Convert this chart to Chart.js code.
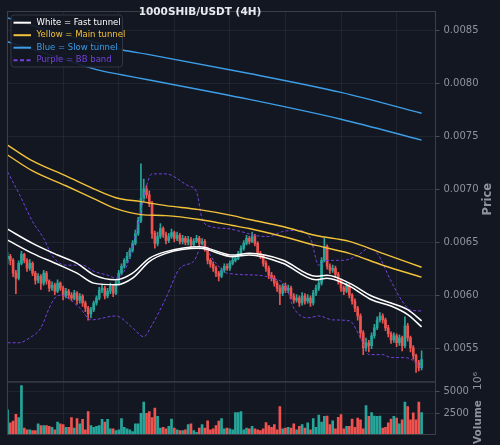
<!DOCTYPE html>
<html lang="en">
<head>
<meta charset="UTF-8">
<title>1000SHIB/USDT (4H)</title>
<script src="https://cdn.jsdelivr.net/npm/chart.js@4.4.1/dist/chart.umd.min.js"></script>
<style>
  body { margin: 0; background: #131722; }
  canvas { display: block; }
</style>
</head>
<body>
<canvas id="chart" width="500" height="445"></canvas>
<script>
// candles (4H)
const opens = [0.006350,0.006372,0.006334,0.006213,0.006166,0.006306,0.006391,0.006334,0.006259,0.006306,
  0.006213,0.006147,0.006184,0.006119,0.006213,0.006138,0.006072,0.006100,0.006044,0.006119,
  0.006072,0.005997,0.006044,0.006006,0.005978,0.006025,0.005959,0.005997,0.005931,0.005884,
  0.005828,0.005866,0.005931,0.005978,0.006053,0.006072,0.005997,0.006044,0.006091,0.006025,
  0.006119,0.006213,0.006278,0.006334,0.006372,0.006428,0.006494,0.006588,0.006709,0.006916,
  0.007009,0.006953,0.006869,0.006588,0.006494,0.006559,0.006634,0.006578,0.006522,0.006559,
  0.006597,0.006541,0.006569,0.006513,0.006541,0.006503,0.006531,0.006484,0.006513,0.006541,
  0.006494,0.006513,0.006447,0.006334,0.006297,0.006259,0.006213,0.006184,0.006241,0.006278,
  0.006259,0.006306,0.006334,0.006353,0.006400,0.006447,0.006494,0.006541,0.006513,0.006559,
  0.006494,0.006400,0.006372,0.006306,0.006259,0.006194,0.006166,0.006119,0.006072,0.006025,
  0.006091,0.006053,0.006072,0.005997,0.005959,0.005978,0.005931,0.005997,0.005950,0.005978,
  0.005931,0.006025,0.006072,0.006119,0.006334,0.006466,0.006278,0.006241,0.006259,0.006203,
  0.006147,0.006072,0.006044,0.006091,0.006006,0.005950,0.005884,0.005809,0.005650,0.005509,
  0.005556,0.005528,0.005622,0.005697,0.005772,0.005809,0.005772,0.005697,0.005641,0.005584,
  0.005622,0.005556,0.005603,0.005528,0.005716,0.005603,0.005509,0.005434,0.005369,0.005322];
const highs = [0.006410,0.006390,0.006350,0.006240,0.006330,0.006420,0.006400,0.006350,0.006340,0.006320,
  0.006230,0.006210,0.006200,0.006240,0.006230,0.006150,0.006130,0.006120,0.006150,0.006130,
  0.006090,0.006070,0.006060,0.006030,0.006050,0.006040,0.006020,0.006010,0.005950,0.005900,
  0.005890,0.005950,0.006000,0.006080,0.006110,0.006090,0.006070,0.006120,0.006100,0.006140,
  0.006240,0.006300,0.006350,0.006410,0.006450,0.006520,0.006620,0.006740,0.007244,0.007100,
  0.007040,0.006990,0.006890,0.006610,0.006600,0.006680,0.006650,0.006600,0.006590,0.006630,
  0.006610,0.006600,0.006590,0.006570,0.006560,0.006560,0.006550,0.006540,0.006570,0.006560,
  0.006540,0.006530,0.006460,0.006350,0.006320,0.006280,0.006230,0.006260,0.006300,0.006300,
  0.006330,0.006360,0.006380,0.006420,0.006470,0.006520,0.006570,0.006560,0.006600,0.006580,
  0.006510,0.006420,0.006390,0.006330,0.006280,0.006220,0.006190,0.006140,0.006100,0.006110,
  0.006120,0.006100,0.006090,0.006020,0.006010,0.006000,0.006030,0.006020,0.006010,0.006000,
  0.006050,0.006100,0.006140,0.006360,0.006541,0.006480,0.006300,0.006290,0.006280,0.006220,
  0.006160,0.006090,0.006120,0.006110,0.006020,0.005970,0.005900,0.005830,0.005670,0.005600,
  0.005580,0.005650,0.005730,0.005800,0.005840,0.005830,0.005790,0.005720,0.005660,0.005650,
  0.005640,0.005630,0.005620,0.005800,0.005740,0.005620,0.005530,0.005450,0.005390,0.005481];
const lows = [0.006300,0.006290,0.006180,0.006020,0.006150,0.006290,0.006310,0.006230,0.006240,0.006190,
  0.006110,0.006120,0.006060,0.006100,0.006110,0.006040,0.006050,0.006010,0.006030,0.006050,
  0.005960,0.005980,0.005970,0.005950,0.005960,0.005920,0.005930,0.005900,0.005850,0.005770,
  0.005790,0.005850,0.005910,0.005960,0.006030,0.005970,0.005980,0.006020,0.005990,0.006010,
  0.006100,0.006200,0.006260,0.006310,0.006350,0.006410,0.006480,0.006570,0.006690,0.006890,
  0.006920,0.006840,0.006540,0.006450,0.006470,0.006540,0.006550,0.006490,0.006500,0.006540,
  0.006510,0.006520,0.006490,0.006490,0.006480,0.006480,0.006460,0.006470,0.006500,0.006470,
  0.006480,0.006420,0.006300,0.006270,0.006230,0.006180,0.006140,0.006170,0.006220,0.006240,
  0.006240,0.006290,0.006320,0.006340,0.006380,0.006430,0.006480,0.006490,0.006500,0.006470,
  0.006380,0.006350,0.006280,0.006230,0.006160,0.006140,0.006090,0.006040,0.005915,0.006000,
  0.006030,0.006030,0.005970,0.005930,0.005940,0.005900,0.005910,0.005920,0.005930,0.005900,
  0.005910,0.006000,0.006050,0.006100,0.006320,0.006250,0.006210,0.006220,0.006170,0.006110,
  0.006040,0.006010,0.006030,0.005980,0.005920,0.005850,0.005770,0.005600,0.005444,0.005480,
  0.005470,0.005500,0.005600,0.005680,0.005750,0.005740,0.005670,0.005610,0.005550,0.005560,
  0.005520,0.005530,0.005480,0.005510,0.005570,0.005470,0.005400,0.005275,0.005290,0.005300];
const closes = [0.006372,0.006334,0.006213,0.006166,0.006306,0.006391,0.006334,0.006259,0.006306,0.006213,
  0.006147,0.006184,0.006119,0.006213,0.006138,0.006072,0.006100,0.006044,0.006119,0.006072,
  0.005997,0.006044,0.006006,0.005978,0.006025,0.005959,0.005997,0.005931,0.005884,0.005828,
  0.005866,0.005931,0.005978,0.006053,0.006072,0.005997,0.006044,0.006091,0.006025,0.006119,
  0.006213,0.006278,0.006334,0.006372,0.006428,0.006494,0.006588,0.006709,0.006916,0.007009,
  0.006953,0.006869,0.006588,0.006494,0.006559,0.006634,0.006578,0.006522,0.006559,0.006597,
  0.006541,0.006569,0.006513,0.006541,0.006503,0.006531,0.006484,0.006513,0.006541,0.006494,
  0.006513,0.006447,0.006334,0.006297,0.006259,0.006213,0.006184,0.006241,0.006278,0.006259,
  0.006306,0.006334,0.006353,0.006400,0.006447,0.006494,0.006541,0.006513,0.006559,0.006494,
  0.006400,0.006372,0.006306,0.006259,0.006194,0.006166,0.006119,0.006072,0.006025,0.006091,
  0.006053,0.006072,0.005997,0.005959,0.005978,0.005931,0.005997,0.005950,0.005978,0.005931,
  0.006025,0.006072,0.006119,0.006334,0.006466,0.006278,0.006241,0.006259,0.006203,0.006147,
  0.006072,0.006044,0.006091,0.006006,0.005950,0.005884,0.005809,0.005650,0.005509,0.005556,
  0.005528,0.005622,0.005697,0.005772,0.005809,0.005772,0.005697,0.005641,0.005584,0.005622,
  0.005556,0.005603,0.005528,0.005716,0.005603,0.005509,0.005434,0.005369,0.005322,0.005397];
// volume, in units of 10^6
const volumes = [2900,1400,1600,2400,2000,5700,800,600,600,500,
  500,1300,1100,1100,1100,1000,900,600,1500,1300,
  1200,900,900,2000,800,1900,1300,1800,600,2700,
  1100,900,1000,1100,1800,1500,1800,700,700,500,
  600,1900,900,700,600,400,1300,1300,2500,3800,
  2500,2700,2000,3100,2150,800,900,700,1000,1850,
  800,600,500,500,600,1200,1300,500,300,800,
  1200,800,1650,600,700,1100,1600,1900,700,800,
  700,600,2600,2600,2700,600,800,700,1000,700,
  600,500,700,1450,1100,900,1200,600,3300,700,
  800,900,800,1300,600,1000,1200,800,1400,600,
  1900,900,2300,1500,2150,2200,1200,1650,700,2050,
  2350,700,1000,1000,1850,900,1950,1750,700,3400,
  2150,2600,2200,2150,2200,800,900,1400,1850,2150,
  1950,1300,1750,3800,3300,1750,2550,1750,3800,2600];

// tunnels and bands, sampled at candle indices
const fastIdx = [0,9,18,25,31,39,45,51,57,69,81,87,99,111,115,123,131,138,144,149];
const fastUpper = [0.006628,0.006494,0.006384,0.006306,0.006197,0.006150,0.006213,0.006353,0.006416,0.006463,
  0.006384,0.006400,0.006337,0.006184,0.006194,0.006119,0.005997,0.005931,0.005868,0.005763];
const fastLower = [0.006525,0.006400,0.006297,0.006213,0.006119,0.006103,0.006166,0.006322,0.006400,0.006447,
  0.006369,0.006384,0.006306,0.006150,0.006166,0.006091,0.005962,0.005903,0.005822,0.005706];
const mainIdx = [0,9,21,31,39,48,57,69,81,87,99,111,123,135,149];
const mainUpper = [0.007422,0.007272,0.007131,0.007009,0.006925,0.006888,0.006850,0.006813,0.006756,0.006719,
  0.006653,0.006569,0.006513,0.006400,0.006269];
const mainLower = [0.007328,0.007178,0.007038,0.006916,0.006822,0.006766,0.006756,0.006719,0.006663,0.006634,
  0.006559,0.006475,0.006400,0.006288,0.006175];
const slowIdx = [0,19,32,41,50,87,120,149];
const slowUpper = [0.008622,0.008472,0.008388,0.008322,0.008280,0.008097,0.007919,0.007722];
const slowLower = [0.008397,0.008243,0.008134,0.008086,0.008041,0.007853,0.007666,0.007469];
const bbUpIdx = [0,4.5,9,13,16,21,27,31,36,39,43,45,48,50,52,57,65,68,70,73,
  79,84,89,94,99,104,109,112,115,121,126,130,133,138,142,145,149];
const bbUpper = [0.007169,0.006944,0.006700,0.006541,0.006381,0.006288,0.006288,0.006231,0.006194,0.006166,
  0.006288,0.006475,0.006794,0.007038,0.007150,0.007150,0.007038,0.006981,0.006728,0.006653,
  0.006634,0.006606,0.006569,0.006559,0.006606,0.006616,0.006541,0.006288,0.006334,0.006334,
  0.006381,0.006447,0.006400,0.006138,0.005950,0.005866,0.005856];
const bbLowIdx = [0,4,8,12,15,17,19,26,30,39,45,49,52,57,62,67,70,75,79,90,
  95,100,103,108,112,117,123,127,130,135,138,143,147,149];
const bbLower = [0.005556,0.005556,0.005603,0.005697,0.005884,0.005978,0.006006,0.005884,0.005772,0.005809,
  0.005697,0.005613,0.005725,0.005978,0.006259,0.006325,0.006466,0.006306,0.006213,0.006194,
  0.006166,0.006091,0.005884,0.005791,0.005809,0.005772,0.005763,0.005603,0.005444,0.005444,
  0.005416,0.005416,0.005369,0.005313];

const priceTicks = [0.0055, 0.0060, 0.0065, 0.0070, 0.0075, 0.0080, 0.0085];
const volumeTicks = [2500, 5000];
const xGridIdx = [20, 40, 60, 80, 100, 120, 140];
const legendLabels = ['White = Fast tunnel', 'Yellow = Main tunnel', 'Blue = Slow tunnel', 'Purple = BB band'];

const UP = '#26a69a', DOWN = '#ef5350';
const WHITE = '#ffffff', YELLOW = '#f2c23a', BLUE = '#3d9de6', PURPLE = '#7442dd';
const legendColors = [WHITE, YELLOW, BLUE, PURPLE];

const candleColors = closes.map((c, i) => c >= opens[i] ? UP : DOWN);

function pts(idx, vals) {
  return idx.map((x, k) => ({ x: x, y: vals[k] }));
}
function line(idx, vals, color, width, dash) {
  return {
    type: 'line', data: pts(idx, vals), yAxisID: 'y', order: 1,
    borderColor: color, borderWidth: width, borderDash: dash || [],
    pointRadius: 0, cubicInterpolationMode: 'monotone', fill: false
  };
}

Chart.defaults.font.family = '"DejaVu Sans", sans-serif';
Chart.defaults.color = '#8f939c';

const overlay = {
  id: 'overlay',
  afterDraw(chart) {
    const ctx = chart.ctx;
    const a = chart.chartArea;
    const yp = chart.scales.y, yv = chart.scales.yv;
    ctx.save();

    // panel frames
    ctx.strokeStyle = '#3b3f4a';
    ctx.lineWidth = 1;
    ctx.strokeRect(a.left + 0.5, yp.top + 0.5, a.right - a.left - 0.5, yp.bottom - yp.top);
    ctx.strokeRect(a.left + 0.5, yv.top + 0.5, a.right - a.left - 0.5, yv.bottom - yv.top - 1);

    // title
    ctx.fillStyle = '#e6e8ee';
    ctx.font = 'bold 10.5px "DejaVu Sans"';
    ctx.textAlign = 'center';
    ctx.textBaseline = 'alphabetic';
    ctx.fillText('1000SHIB/USDT (4H)', 200, 15);

    // axis titles
    ctx.fillStyle = '#8f939c';
    ctx.textBaseline = 'middle';
    ctx.save();
    ctx.translate(488, (yp.top + yp.bottom) / 2 + 3);
    ctx.rotate(-Math.PI / 2);
    ctx.font = 'bold 11.5px "DejaVu Sans"';
    ctx.fillText('Price', 0, 0);
    ctx.restore();
    ctx.save();
    ctx.translate(478, 422);
    ctx.rotate(-Math.PI / 2);
    ctx.fillText('Volume', 0, 0);
    ctx.restore();
    ctx.save();
    ctx.translate(478, 381);
    ctx.rotate(-Math.PI / 2);
    ctx.font = '11px "DejaVu Sans"';
    ctx.fillText('10\u2076', 0, 0);
    ctx.restore();

    // legend
    ctx.beginPath();
    ctx.roundRect(11, 15, 111.5, 52, 3);
    ctx.fillStyle = 'rgba(19,23,34,0.9)';
    ctx.fill();
    ctx.strokeStyle = '#323642';
    ctx.stroke();
    ctx.font = '8.5px "DejaVu Sans"';
    ctx.textAlign = 'left';
    legendLabels.forEach((t, k) => {
      const y = 22.7 + k * 12.5;
      ctx.beginPath();
      ctx.setLineDash(k === 3 ? [4, 2.5] : []);
      ctx.strokeStyle = legendColors[k];
      ctx.lineWidth = 2;
      ctx.moveTo(13.5, y);
      ctx.lineTo(31, y);
      ctx.stroke();
      ctx.setLineDash([]);
      ctx.fillStyle = legendColors[k];
      ctx.fillText(t, 36.5, y);
    });
    ctx.restore();
  }
};

const xs = closes.map((_, i) => i);

new Chart(document.getElementById('chart'), {
  type: 'bar',
  data: {
    datasets: [
      line(fastIdx, fastUpper, WHITE, 1.5),
      line(fastIdx, fastLower, WHITE, 1.5),
      line(mainIdx, mainUpper, YELLOW, 1.4),
      line(mainIdx, mainLower, YELLOW, 1.4),
      line(slowIdx, slowUpper, BLUE, 1.4),
      line(slowIdx, slowLower, BLUE, 1.4),
      line(bbUpIdx, bbUpper, PURPLE, 1, [3, 2]),
      line(bbLowIdx, bbLower, PURPLE, 1, [3, 2]),
      {
        // bodies
        data: xs.map(i => ({ x: i, y: [opens[i], closes[i]] })),
        yAxisID: 'y', order: 5, grouped: false,
        backgroundColor: candleColors, barThickness: 2
      },
      {
        // wicks
        data: xs.map(i => ({ x: i, y: [lows[i], highs[i]] })),
        yAxisID: 'y', order: 6, grouped: false,
        backgroundColor: candleColors, barThickness: 1
      },
      {
        data: xs.map(i => ({ x: i, y: volumes[i] })),
        yAxisID: 'yv', order: 7, grouped: false,
        backgroundColor: candleColors, barThickness: 2
      }
    ]
  },
  options: {
    responsive: false,
    animation: false,
    layout: { padding: { left: 7, top: 11, right: 0, bottom: 7 } },
    plugins: { legend: { display: false }, tooltip: { enabled: false }, title: { display: false } },
    scales: {
      x: {
        type: 'linear', min: -0.2, max: 154, offset: false,
        afterBuildTicks: s => { s.ticks = xGridIdx.map(v => ({ value: v })); },
        afterFit: s => { s.height = 0; },
        ticks: { display: false },
        border: { display: false },
        grid: { offset: false, color: 'rgba(255,255,255,0.06)', drawTicks: false }
      },
      y: {
        type: 'linear', position: 'right', stack: 'panes', stackWeight: 373,
        min: 0.0051915, max: 0.0086875,
        afterBuildTicks: s => { s.ticks = priceTicks.map(v => ({ value: v })); },
        afterFit: s => { s.width = 64.5; },
        ticks: { callback: v => v.toFixed(4), font: { size: 10 }, color: '#8f939c', padding: 4 },
        border: { display: false },
        grid: { color: 'rgba(255,255,255,0.06)', tickColor: '#4a4e58', tickLength: 4 }
      },
      yv: {
        type: 'linear', position: 'right', stack: 'panes', stackWeight: 54,
        min: 0, max: 6200,
        afterBuildTicks: s => { s.ticks = volumeTicks.map(v => ({ value: v })); },
        afterFit: s => { s.width = 64.5; },
        ticks: { callback: v => String(v), font: { size: 10 }, color: '#8f939c', padding: 4 },
        border: { display: false },
        grid: { color: 'rgba(255,255,255,0.06)', tickColor: '#4a4e58', tickLength: 4 }
      }
    }
  },
  plugins: [overlay]
});
</script>
</body>
</html>
